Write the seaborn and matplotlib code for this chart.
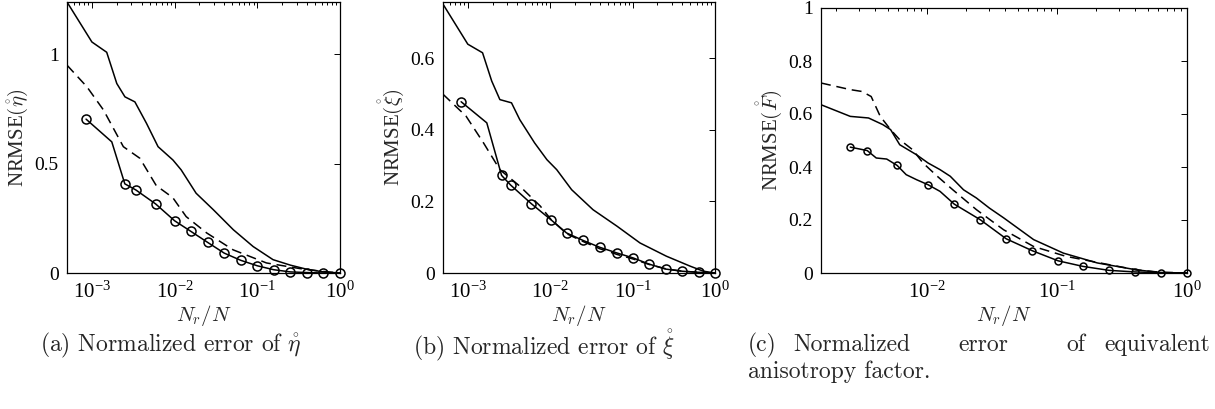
import matplotlib
matplotlib.use("Agg")
import matplotlib.pyplot as plt
import matplotlib.ticker as mticker
import seaborn as sns

# ---------------- data ----------------
# panel (a): NRMSE of eta
a_top_x = [5.0e-4, 1.0e-3, 1.51e-3, 2.0e-3, 2.51e-3, 3.31e-3, 4.57e-3, 6.31e-3, 9.55e-3, 1.2e-2,
           1.82e-2, 2.95e-2, 5.13e-2, 8.91e-2, 0.155, 0.251, 0.398, 0.631, 1.0]
a_top_y = [1.24, 1.057, 1.01, 0.867, 0.806, 0.783, 0.685, 0.578, 0.517, 0.472,
           0.365, 0.289, 0.198, 0.121, 0.061, 0.036, 0.017, 0.005, 0.0]
a_dash_x = [5.0e-4, 8.7e-4, 1.38e-3, 2.4e-3, 3.8e-3, 6.0e-3, 9.5e-3, 1.38e-2, 2.45e-2,
            5.1e-2, 0.129, 0.33, 0.63, 1.0]
a_dash_y = [0.951, 0.852, 0.746, 0.578, 0.525, 0.40, 0.345, 0.258, 0.183,
            0.106, 0.046, 0.020, 0.007, 0.0]
a_circ_x = [8.5e-4, 1.74e-3, 2.5e-3, 3.4e-3, 5.9e-3, 1.0e-2, 1.58e-2, 2.51e-2, 3.98e-2,
            6.31e-2, 0.1, 0.158, 0.251, 0.398, 0.631, 1.0]
a_circ_y = [0.704, 0.60, 0.408, 0.380, 0.316, 0.239, 0.190, 0.140, 0.091,
            0.058, 0.033, 0.015, 0.005, 0.002, 0.0, 0.0]
a_circ_marks = [0, 2, 3, 4, 5, 6, 7, 8, 9, 10, 11, 12, 13, 14, 15]

# panel (b): NRMSE of xi
b_top_x = [5.0e-4, 1.0e-3, 1.51e-3, 1.95e-3, 2.45e-3, 3.39e-3, 4.27e-3, 6.46e-3, 9.12e-3,
           1.2e-2, 1.82e-2, 3.31e-2, 6.46e-2, 0.123, 0.257, 0.501, 0.724, 1.0]
b_top_y = [0.752, 0.64, 0.616, 0.537, 0.485, 0.476, 0.429, 0.364, 0.317,
           0.289, 0.233, 0.177, 0.131, 0.084, 0.047, 0.019, 0.005, 0.0]
b_dash_x = [5.0e-4, 9.5e-4, 1.55e-3, 2.45e-3, 4.27e-3, 7.59e-3, 1.02e-2, 1.58e-2, 2.51e-2,
            3.98e-2, 6.46e-2, 0.102, 0.158, 0.251, 0.398, 0.631, 1.0]
b_dash_y = [0.50, 0.439, 0.364, 0.289, 0.243, 0.187, 0.150, 0.110, 0.088,
            0.068, 0.052, 0.039, 0.024, 0.012, 0.005, 0.002, 0.0]
b_circ_x = [8.3e-4, 1.7e-3, 2.57e-3, 3.31e-3, 5.89e-3, 1.02e-2, 1.58e-2, 2.51e-2, 3.98e-2,
            6.46e-2, 0.102, 0.158, 0.251, 0.398, 0.631, 1.0]
b_circ_y = [0.479, 0.42, 0.273, 0.246, 0.194, 0.149, 0.112, 0.091, 0.072,
            0.056, 0.042, 0.025, 0.011, 0.005, 0.002, 0.0]
b_circ_marks = [0, 2, 3, 4, 5, 6, 7, 8, 9, 10, 11, 12, 13, 14, 15]

# panel (c): NRMSE of equivalent anisotropy factor
c_top_x = [1.53e-3, 2.57e-3, 3.55e-3, 4.57e-3, 5.25e-3, 6.17e-3, 8.32e-3, 1.02e-2, 1.26e-2,
           1.51e-2, 1.91e-2, 2.4e-2, 3.02e-2, 3.89e-2, 6.61e-2, 0.112, 0.204, 0.407, 0.617, 1.0]
c_top_y = [0.635, 0.591, 0.585, 0.56, 0.541, 0.484, 0.446, 0.415, 0.39,
           0.365, 0.314, 0.283, 0.245, 0.208, 0.126, 0.075, 0.038, 0.012, 0.002, 0.0]
c_dash_x = [1.53e-3, 2.57e-3, 3.16e-3, 3.72e-3, 4.37e-3, 5.25e-3, 6.17e-3, 7.76e-3, 9.33e-3,
            1.2e-2, 1.58e-2, 2.4e-2, 3.89e-2, 6.61e-2, 0.117, 0.214, 0.407, 0.617, 1.0]
c_dash_y = [0.717, 0.692, 0.685, 0.666, 0.591, 0.541, 0.503, 0.465, 0.415,
            0.365, 0.314, 0.239, 0.163, 0.100, 0.063, 0.038, 0.012, 0.003, 0.0]
c_circ_x = [2.57e-3, 3.47e-3, 4.07e-3, 4.9e-3, 5.89e-3, 6.92e-3, 8.32e-3, 1.02e-2, 1.26e-2,
            1.62e-2, 2.57e-2, 4.07e-2, 6.46e-2, 0.102, 0.158, 0.251, 0.398, 0.631, 1.0]
c_circ_y = [0.475, 0.462, 0.434, 0.430, 0.406, 0.371, 0.352, 0.333, 0.308,
            0.260, 0.201, 0.129, 0.084, 0.046, 0.025, 0.010, 0.004, 0.001, 0.0]
c_circ_marks = [0, 1, 4, 7, 9, 10, 11, 12, 13, 14, 15, 16, 17, 18]

a_yticks = [0, 0.5, 1]
b_yticks = [0, 0.2, 0.4, 0.6]
c_yticks = [0, 0.2, 0.4, 0.6, 0.8, 1]

ylabels = [r"NRMSE$(\mathring{\eta})$", r"NRMSE$(\mathring{\xi})$", r"NRMSE$(\mathring{F})$"]
xlabel = r"$N_r/N$"

# ---------------- style ----------------
sns.set_style("white")
plt.rcParams["font.family"] = ["Liberation Serif", "DejaVu Serif"]
plt.rcParams["mathtext.fontset"] = "stix"
plt.rcParams["axes.linewidth"] = 0.9
plt.rcParams["axes.edgecolor"] = "black"

fig = plt.figure(figsize=(12.15, 4.09), dpi=100)
W, H = 1215, 409

def add_axes(l, t, r, b):
    return fig.add_axes([l / W, 1 - b / H, (r - l) / W, (b - t) / H])

ax_a = add_axes(67, 2, 340, 273)
ax_b = add_axes(443, 2, 715, 273)
ax_c = add_axes(821, 8, 1187, 273)

LW = 1.1

def draw(ax, tx, ty, dx, dy, cx, cy, marks):
    sns.lineplot(x=tx, y=ty, ax=ax, color="black", linewidth=LW, estimator=None,
                 errorbar=None, sort=False)
    sns.lineplot(x=dx, y=dy, ax=ax, color="black", linewidth=LW, estimator=None,
                 errorbar=None, sort=False, linestyle=(0, (6.5, 3.8)))
    sns.lineplot(x=cx, y=cy, ax=ax, color="black", linewidth=LW, estimator=None,
                 errorbar=None, sort=False, marker="o", markersize=6.5,
                 markerfacecolor="none", markeredgecolor="black",
                 markeredgewidth=1.1, markevery=marks, clip_on=False)

draw(ax_a, a_top_x, a_top_y, a_dash_x, a_dash_y, a_circ_x, a_circ_y, a_circ_marks)
draw(ax_b, b_top_x, b_top_y, b_dash_x, b_dash_y, b_circ_x, b_circ_y, b_circ_marks)
draw(ax_c, c_top_x, c_top_y, c_dash_x, c_dash_y, c_circ_x, c_circ_y, c_circ_marks)
for ln in ax_c.get_lines()[2:]:
    ln.set_markersize(5.0)

fmt = mticker.FuncFormatter(lambda v, p: "%g" % v)
for ax, xl, yl, yt, ylab in [
    (ax_a, (5e-4, 1.0), (0, 1.24), a_yticks, ylabels[0]),
    (ax_b, (5e-4, 1.0), (0, 0.758), b_yticks, ylabels[1]),
    (ax_c, (1.53e-3, 1.0), (0, 1.0), c_yticks, ylabels[2]),
]:
    ax.set_xscale("log")
    ax.set_xlim(*xl)
    ax.set_ylim(*yl)
    ax.set_yticks(yt)
    ax.yaxis.set_major_formatter(fmt)
    ax.xaxis.set_major_locator(mticker.LogLocator(base=10, numticks=10))
    ax.xaxis.set_minor_locator(mticker.LogLocator(base=10, subs=range(2, 10), numticks=20))
    ax.xaxis.set_minor_formatter(mticker.NullFormatter())
    ax.tick_params(which="both", direction="in", top=True, right=True,
                   width=0.7, colors="black", pad=6)
    ax.tick_params(axis="y", labelsize=14)
    ax.tick_params(axis="x", labelsize=15)
    ax.tick_params(which="major", length=4)
    ax.tick_params(which="minor", length=2)
    for s in ax.spines.values():
        s.set_visible(True)
        s.set_color("black")
    ax.set_xlabel(xlabel, fontsize=15, math_fontfamily="cm", labelpad=0)
    ax.set_ylabel(ylab, fontsize=15, math_fontfamily="cm", labelpad=3)

cap_kw = dict(fontsize=17, family="cmr10", math_fontfamily="cm", va="center")
fig.text(40 / W, 1 - 345 / H, r"(a) Normalized error of $\mathring{\eta}$", ha="left", **cap_kw)
fig.text(413 / W, 1 - 345 / H, r"(b) Normalized error of $\mathring{\xi}$", ha="left", **cap_kw)
fig.text(748 / W, 1 - 345 / H, "(c)", ha="left", **cap_kw)
fig.text(793 / W, 1 - 345 / H, "Normalized", ha="left", **cap_kw)
fig.text(958 / W, 1 - 345 / H, "error", ha="left", **cap_kw)
fig.text(1066 / W, 1 - 345 / H, "of", ha="left", **cap_kw)
fig.text(1210 / W, 1 - 345 / H, "equivalent", ha="right", **cap_kw)
fig.text(748 / W, 1 - 372 / H, "anisotropy factor.", ha="left", **cap_kw)

fig.savefig("out.png", dpi=100)
